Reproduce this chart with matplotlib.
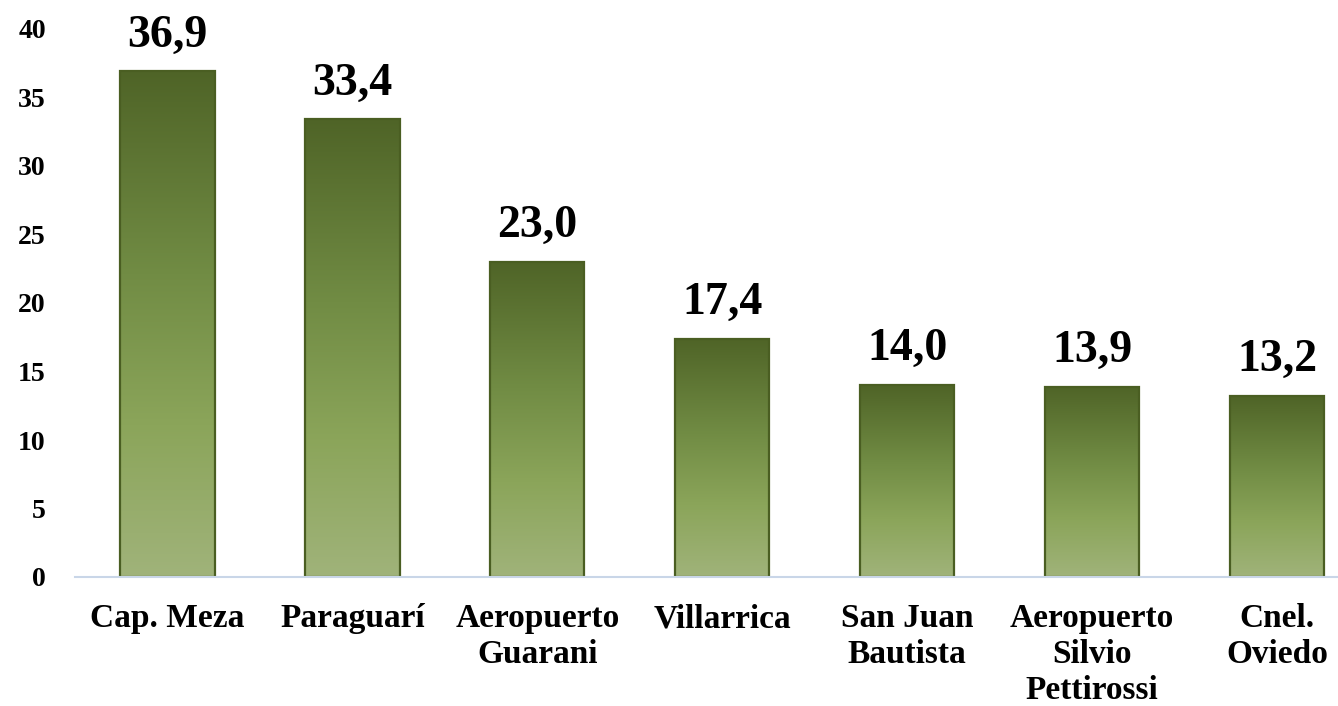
import numpy as np
import matplotlib
matplotlib.use("Agg")
import matplotlib.pyplot as plt
from matplotlib.colors import LinearSegmentedColormap

categories = ["Cap. Meza", "Paraguarí", "Aeropuerto\nGuarani", "Villarrica",
              "San Juan\nBautista", "Aeropuerto\nSilvio\nPettirossi", "Cnel.\nOviedo"]
values = [36.9, 33.4, 23.0, 17.4, 14.0, 13.9, 13.2]
yticks = [0, 5, 10, 15, 20, 25, 30, 35, 40]

plt.rcParams['font.family'] = ['Liberation Serif', 'DejaVu Serif']
plt.rcParams['font.weight'] = 'bold'

fig = plt.figure(figsize=(13.38, 7.06), dpi=100)
ax = fig.add_axes([75/1338, (706-577)/706, 1263/1338, 548/706])

x = np.arange(len(categories))
bars = ax.bar(x, values, width=0.51, facecolor='none', edgecolor='#4A5E22',
              linewidth=1.6, zorder=3)

cmap = LinearSegmentedColormap.from_list(
    'olive', [(0.0, '#A0B37A'), (0.3, '#8BA55A'), (0.6, '#718C44'), (1.0, '#4F6427')])
grad = np.linspace(0, 1, 256).reshape(-1, 1)
for b in bars:
    x0, y0 = b.get_x(), b.get_y()
    w, h = b.get_width(), b.get_height()
    im = ax.imshow(grad, cmap=cmap, origin='lower', aspect='auto',
                   extent=[x0, x0 + w, y0, y0 + h], zorder=2, interpolation='bicubic')
    im.set_clip_path(b)

for xi, v in zip(x, values):
    ax.annotate(f"{v:.1f}".replace('.', ','), (xi, v), xytext=(0, 18),
                textcoords='offset points', ha='center', va='baseline',
                fontsize=33, fontweight='bold', color='black')

ax.set_xlim(-0.5, 6.33)
ax.set_ylim(0, 40)
ax.set_yticks(yticks)
ax.set_yticklabels([str(t) for t in yticks], fontsize=20, fontweight='bold')
ax.set_xticks(x)
ax.set_xticklabels(categories, fontsize=24, fontweight='bold', linespacing=1.2)
ax.tick_params(axis='y', length=0, pad=21)
ax.tick_params(axis='x', length=0, pad=19)
for s in ['top', 'right', 'left']:
    ax.spines[s].set_visible(False)
ax.spines['bottom'].set_color('#C9D6E8')
ax.spines['bottom'].set_linewidth(1.5)
ax.spines['bottom'].set_zorder(4)

fig.savefig('out.png', dpi=100)
